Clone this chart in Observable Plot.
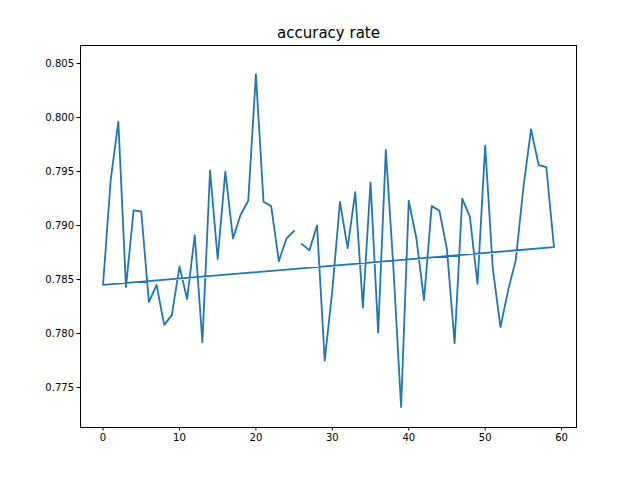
<!DOCTYPE html>
<html><head><meta charset="utf-8">
<script src="https://cdn.jsdelivr.net/npm/d3@7"></script>
<script src="https://cdn.jsdelivr.net/npm/@observablehq/plot@0.6"></script>
<style>body{margin:0;background:#fff}</style>
</head><body><div id="chart"></div>
<script>
// drawing order: 26..59 then 0..25 (hence the long line back and the gap at 25-26)
const order = [26,27,28,29,30,31,32,33,34,35,36,37,38,39,40,41,42,43,44,45,46,47,48,49,50,51,52,53,54,55,56,57,58,59,
  0,1,2,3,4,5,6,7,8,9,10,11,12,13,14,15,16,17,18,19,20,21,22,23,24,25]
const acc = [0.7845,0.7942,0.7996,0.7843,0.7914,0.7913,0.7829,0.7845,0.7808,0.7817,
  0.7862,0.7832,0.7891,0.7792,0.7951,0.7869,0.7950,0.7888,0.7910,0.7923,
  0.8040,0.7922,0.7918,0.7867,0.7888,0.7895,0.7883,0.7877,0.7900,0.7775,
  0.7840,0.7922,0.7879,0.7931,0.7824,0.7940,0.7801,0.7970,0.7860,0.7732,
  0.7923,0.7888,0.7831,0.7918,0.7914,0.7878,0.7791,0.7925,0.7908,0.7846,
  0.7974,0.7860,0.7806,0.7840,0.7868,0.7935,0.7989,0.7956,0.7954,0.7880]
const xTicks = [0,10,20,30,40,50,60]
const yTicks = [0.775,0.780,0.785,0.790,0.795,0.800,0.805]
const data = order.map(i => ({x: i, y: acc[i]}))

const chart = Plot.plot({
  width: 640, height: 480,
  marginLeft: 80, marginRight: 64, marginTop: 45, marginBottom: 53,
  style: {fontFamily: 'DejaVu Sans', fontSize: '10px', color: '#000'},
  x: {domain: [-2.95, 61.95], ticks: xTicks, label: null, tickSize: 3.5, tickPadding: 3},
  y: {domain: [0.77130, 0.80667], ticks: yTicks, label: null, tickSize: 3.5, tickPadding: 3, tickFormat: d3.format('.3f')},
  marks: [
    Plot.line(data, {x: 'x', y: 'y', stroke: '#1f77b4', strokeWidth: 1.8}),
    Plot.frame({stroke: '#000', strokeWidth: 1}),
    Plot.text(['accuracy rate'], {frameAnchor: 'top', dy: -8, fontSize: 15, lineAnchor: 'bottom'})
  ]
})
d3.select('#chart').append(() => chart)
</script></body></html>
